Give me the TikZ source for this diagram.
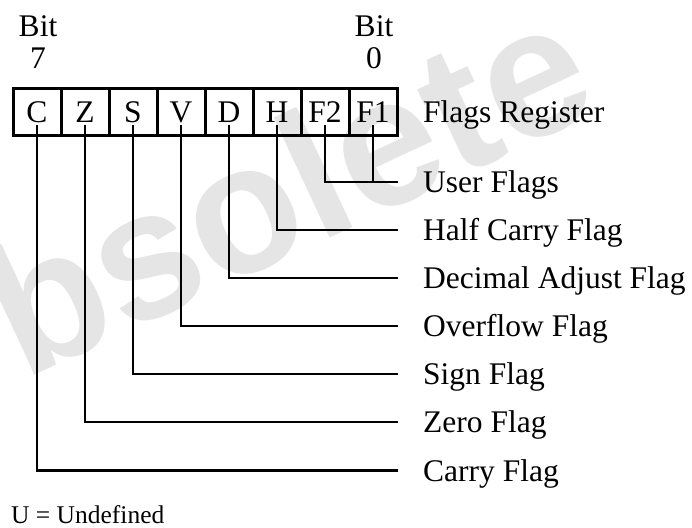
\documentclass[tikz,border=0pt]{standalone}
\usepackage{fontspec}
\setmainfont{Liberation Serif}
\newfontfamily\wmfont{Liberation Sans}
\begin{document}
\begin{tikzpicture}[x=1pt,y=-1pt,
  cell/.style={draw,line width=3pt,minimum width=48pt,minimum height=47pt,inner sep=0pt,outer sep=0pt,
    font=\fontsize{31.5}{36}\selectfont,text height=21pt,text depth=0pt},
  lbl/.style={anchor=west,inner sep=0pt,inner xsep=0pt,font=\fontsize{31.5}{36}\selectfont,text height=21pt,text depth=0pt},
  conn/.style={line width=2.2pt},
  bitlbl/.style={anchor=base,inner sep=0pt,font=\fontsize{31.5}{36}\selectfont}]
\useasboundingbox (0,0) rectangle (692,527);
\node[rotate=25,anchor=base west,inner sep=0pt,text=black!10,font=\fontsize{183}{183}\selectfont\wmfont\bfseries] (wm) at (-106,441) {Obsolete};
% cells
\foreach \n/\t [count=\i from 0] in {C/C,Z/Z,S/S,V/V,D/D,H/H,F2/F2,F1/F1}{
  \node[cell] (c\n) at ({37+48*\i},111.5) {\t};
}
% bit labels
\node[bitlbl] (b7a) at (38,37) {Bit};
\node[bitlbl] (b7b) at (38,68) {7};
\node[bitlbl] (b0a) at (374,37) {Bit};
\node[bitlbl] (b0b) at (374,68) {0};
% labels
\node[lbl] (lR) at (423,111.5) {Flags Register};
\node[lbl] (lU) at (423,182) {User Flags};
\node[lbl] (lH) at (423,230) {Half Carry Flag};
\node[lbl] (lD) at (423,278) {Decimal Adjust Flag};
\node[lbl] (lV) at (423,326) {Overflow Flag};
\node[lbl] (lS) at (423,374) {Sign Flag};
\node[lbl] (lZ) at (423,422) {Zero Flag};
\node[lbl] (lC) at (423,470.5) {Carry Flag};
% connector ends
\foreach \n in {U,H,D,V,S,Z,C}{
  \coordinate (e\n) at ([xshift=-25pt]l\n.west);
}
% connectors
\draw[conn] ([yshift=10pt]cF2.south) |- (eU);
\draw[conn] ([yshift=10pt]cF1.south) -- (cF1.south |- eU);
\foreach \n in {H,D,V,S,Z,C}{
  \draw[conn] ([yshift=10pt]c\n.south) |- (e\n);
}
% footnote
\node[anchor=base west,inner sep=0pt,font=\fontsize{25.5}{30}\selectfont] (note) at (11,523) {U = Undefined};
\end{tikzpicture}
\end{document}
